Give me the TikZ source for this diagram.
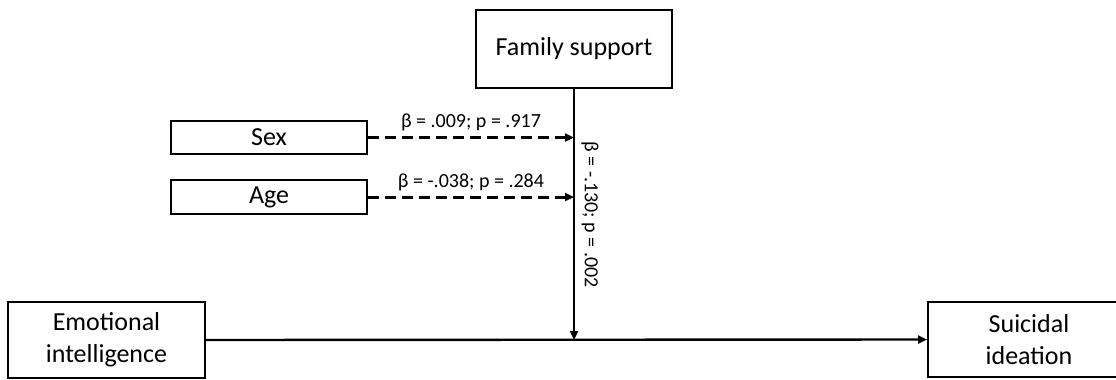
\documentclass[tikz,border=0pt]{standalone}
\usepackage{fontspec}
\setmainfont{Carlito}
\usetikzlibrary{arrows.meta,calc}

\begin{document}
\begin{tikzpicture}[x=1pt,y=-1pt,
  varbox/.style={draw=black, line width=2pt, fill=white, align=center,
    inner sep=0pt, font=\fontsize{26}{32}\selectfont},
  path/.style={line width=2.4pt, -{Triangle[length=9pt,width=8pt]}},
  ctrl/.style={line width=3pt, dash pattern=on 11pt off 6pt,
    -{Triangle[length=9pt,width=8pt]}},
  coef/.style={font=\fontsize{20}{24}\selectfont, inner sep=2pt}]
  \useasboundingbox (0,0) rectangle (1116,380);
  \clip (0,0) rectangle (1116,380);

  % variables
  \node[varbox, minimum width=196pt, minimum height=78pt] (fam) at (574,49) {Family support};
  \node[varbox, minimum width=196pt, minimum height=33pt] (sex) at (269,137.5) {Sex};
  \node[varbox, minimum width=196pt, minimum height=34pt] (age) at (269,197) {Age};
  \node[varbox, minimum width=197pt, minimum height=76pt] (ei) at (106.5,340) {Emotional\\intelligence};
  \node[varbox, minimum width=202pt, minimum height=75pt] (si) at (1029,339.5) {Suicidal\\ideation};

  % moderation point on the main path
  \coordinate (meet) at (fam.south |- ei.east);

  % main effect
  \draw[path] (ei.east) -- (si.west);

  % moderator
  \draw[path] (fam.south) -- (meet);
  \node[coef, rotate=-90] (bfam) at ($(fam.south)!0.5!(meet) + (16,0)$) {β = -.130; p = .002};

  % covariates
  \draw[ctrl] (sex.east) -- (sex.east -| meet)
    node[coef, midway, above=3pt] (bsex) {β = .009; p = .917};
  \draw[ctrl] (age.east) -- (age.east -| meet)
    node[coef, midway, above=3pt] (bage) {β = -.038; p = .284};
\end{tikzpicture}
\end{document}
